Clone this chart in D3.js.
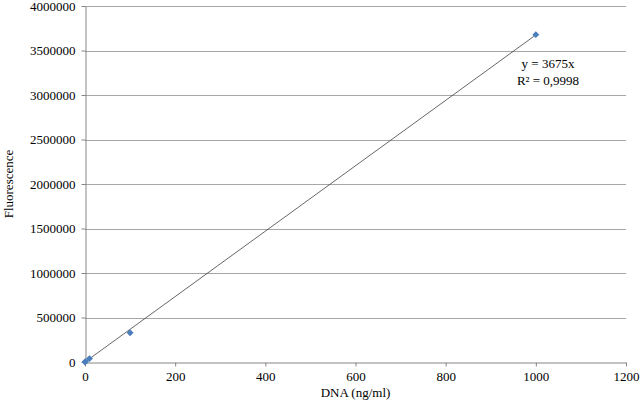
<!DOCTYPE html>
<html>
<head>
<meta charset="utf-8">
<script src="https://cdn.jsdelivr.net/npm/d3@7"></script>
<style>
  body { margin: 0; background: #fff; }
  svg text { font-family: "Liberation Serif", Tinos, "Times New Roman", serif; fill: #000; }
</style>
</head>
<body>
<svg id="chart" width="641" height="407"></svg>
<script>
// data
const dnaConc = [0, 1, 10, 100, 1000];
const fluorescence = [0, 4000, 38000, 328000, 3678000];
const slope = 3675;
const equationLines = ["y = 3675x", "R\u00b2 = 0,9998"];
const xTicks = [0, 200, 400, 600, 800, 1000, 1200];
const yTicks = [0, 500000, 1000000, 1500000, 2000000, 2500000, 3000000, 3500000, 4000000];

const fontStack = '"Liberation Serif", Tinos, "Times New Roman", serif';

const svg = d3.select("#chart");
const margin = { top: 6, right: 15, bottom: 45, left: 85 };
const width = 641 - margin.left - margin.right;
const height = 407 - margin.top - margin.bottom;

const x = d3.scaleLinear().domain([0, 1200]).range([0, width]);
const y = d3.scaleLinear().domain([0, 4000000]).range([height, 0]);

const g = svg.append("g").attr("transform", `translate(${margin.left},${margin.top})`);

// horizontal gridlines
g.selectAll("line.grid")
    .data(yTicks.slice(1))
    .enter().append("line")
    .attr("class", "grid")
    .attr("x1", 0).attr("x2", width)
    .attr("y1", d => Math.round(y(d)) + 0.5).attr("y2", d => Math.round(y(d)) + 0.5)
    .attr("stroke", "#a6a6a6").attr("stroke-width", 1);

// axes
const xAxis = g.append("g")
    .attr("transform", `translate(0,${Math.round(height) + 0.5})`)
    .call(d3.axisBottom(x).tickValues(xTicks).tickFormat(d3.format("d"))
        .tickSize(4).tickSizeOuter(0).tickPadding(5));
const yAxis = g.append("g")
    .attr("transform", "translate(0.5,0)")
    .call(d3.axisLeft(y).tickValues(yTicks).tickFormat(d3.format("d"))
        .tickSize(4).tickSizeOuter(0).tickPadding(6));

[xAxis, yAxis].forEach(a => {
    a.attr("font-family", null);
    a.select(".domain").attr("stroke", "#868686");
    a.selectAll(".tick line").attr("stroke", "#868686");
    a.selectAll(".tick text")
        .style("font-family", fontStack)
        .style("font-size", "13px")
        .attr("fill", "#000");
});

// trendline through origin
g.append("line")
    .attr("x1", x(0)).attr("y1", y(0))
    .attr("x2", x(d3.max(dnaConc))).attr("y2", y(slope * d3.max(dnaConc)))
    .attr("stroke", "#404040").attr("stroke-width", 0.8);

// markers (square diamonds, Excel style)
const pts = dnaConc.map((d, i) => ({ x: d, y: fluorescence[i] }));
g.selectAll("path.pt")
    .data(pts)
    .enter().append("path")
    .attr("class", "pt")
    .attr("d", d3.symbol().type(d3.symbolSquare).size(24))
    .attr("transform", d => `translate(${x(d.x)},${y(d.y)}) rotate(45)`)
    .attr("fill", "#4a7ebb");

// equation label
const eq = g.append("text")
    .attr("y", 62)
    .attr("text-anchor", "middle")
    .style("font-family", fontStack)
    .style("font-size", "13px");
equationLines.forEach((t, i) => {
    eq.append("tspan").attr("x", 463).attr("dy", i === 0 ? 0 : 17).text(t);
});

// axis titles
svg.append("text")
    .attr("x", margin.left + x(600))
    .attr("y", 397)
    .attr("text-anchor", "middle")
    .style("font-family", fontStack)
    .style("font-size", "13px")
    .text("DNA (ng/ml)");

svg.append("text")
    .attr("transform", `translate(13,${margin.top + height / 2}) rotate(-90)`)
    .attr("text-anchor", "middle")
    .style("font-family", fontStack)
    .style("font-size", "13px")
    .text("Fluorescence");
</script>
</body>
</html>
